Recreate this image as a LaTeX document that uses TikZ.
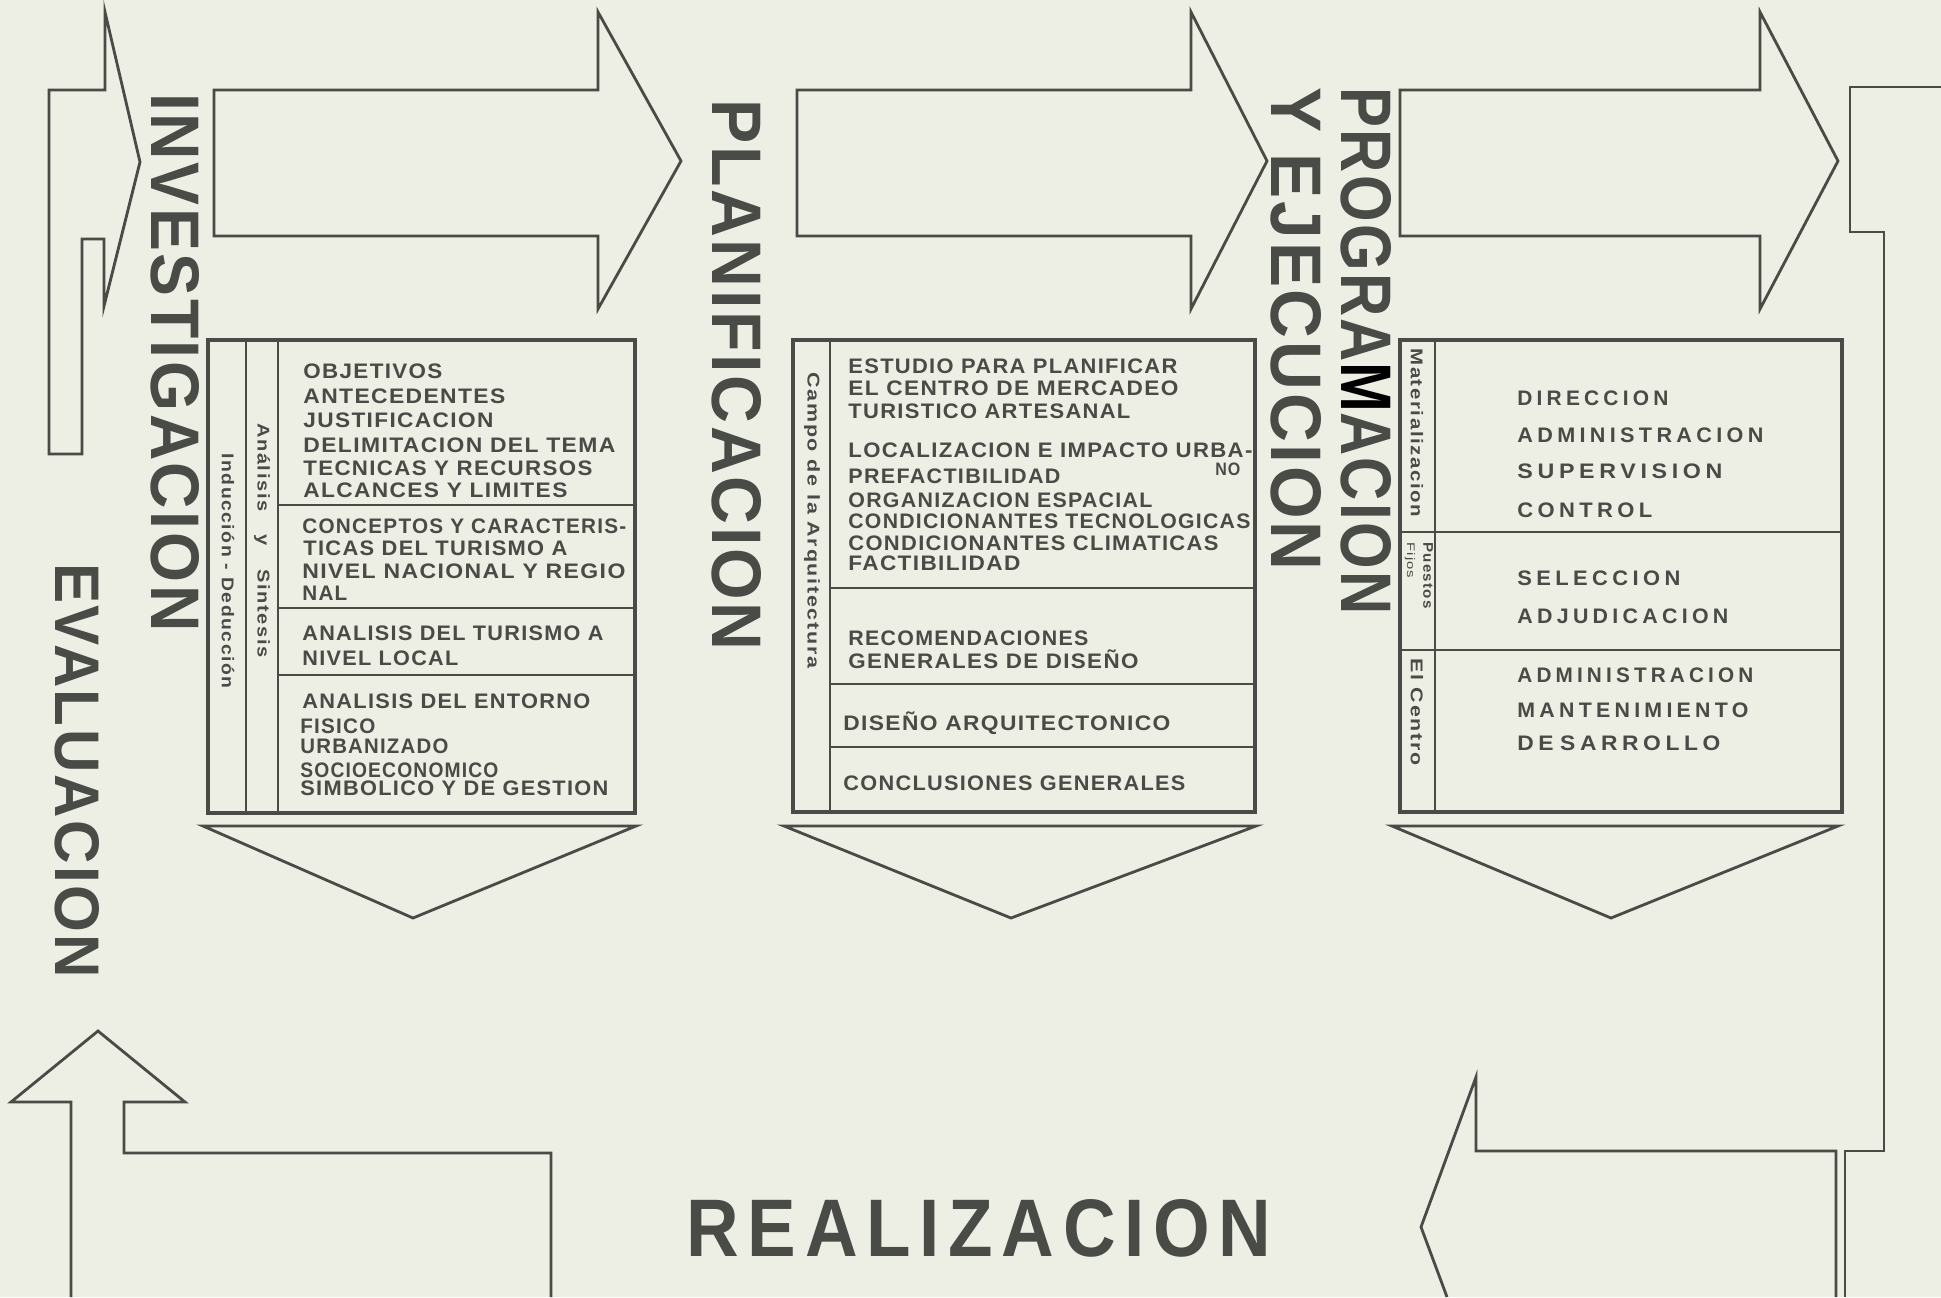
\documentclass[tikz,border=0pt]{standalone}
\usepackage{graphicx}
\usepackage{fontspec}
\setmainfont{Liberation Sans}
\newfontfamily\letrero[LetterSpace=6]{Liberation Sans}
\newfontfamily\letreroancho[LetterSpace=20]{Liberation Sans}
\newfontfamily\rotulo[LetterSpace=8]{Liberation Sans}
\newfontfamily\rotulofase[LetterSpace=4]{Liberation Sans}
\newfontfamily\rotulogrande[LetterSpace=12]{Liberation Sans}
\definecolor{papel}{RGB}{237,238,228}
\definecolor{tinta}{RGB}{72,75,70}
\newdimen\pxu \pxu=0.5pt
% text stretched to a width given in px
\newcommand{\ancho}[2]{\resizebox{#1\pxu}{\height}{#2}}
\newcommand{\titulo}[3]{\resizebox{#1\pxu}{#2\pxu}{\rotulofase\bfseries #3}}
\newcommand{\tituloancho}[3]{\resizebox{#1\pxu}{#2\pxu}{\rotulogrande\bfseries #3}}

\tikzset{
  flecha/.style={draw=tinta,line width=1.4pt,line join=miter},
  caja/.style={draw=tinta,line width=1.8pt},
  raya/.style={draw=tinta,line width=1.3pt},
  linea/.style={anchor=base west,inner sep=0pt,text=tinta,font=\letrero\fontsize{10.5}{12}\selectfont\bfseries},
  lineaancha/.style={linea,font=\letreroancho\fontsize{10.5}{12}\selectfont\bfseries},
  lateral/.style={rotate=-90,anchor=west,inner sep=0pt,text=tinta,font=\rotulo\fontsize{8.5}{9}\selectfont\bfseries},
  fase/.style={rotate=-90,anchor=west,inner sep=0pt,text=tinta},
}

\begin{document}
\begin{tikzpicture}[x=0.5pt,y=-0.5pt]
\useasboundingbox (0,0) rectangle (1941,1297);
\fill[papel] (0,0) rectangle (1941,1297);

% big arrows between the phases
\foreach \xa/\xb/\xc in {214/598/681, 797/1191/1267, 1400/1760/1838}{
  \draw[flecha] (\xa,90) -- (\xb,90) -- (\xb,12) -- (\xc,161) -- (\xb,309) -- (\xb,236) -- (\xa,236) -- cycle;
}
% arrows under the boxes
\foreach \xa/\xb/\xm in {203/636/413, 784/1256/1011, 1392/1838/1611}{
  \draw[flecha] (\xa,826) -- (\xb,826) -- (\xm,918) -- cycle;
}
% feedback loop
\draw[flecha] (49,90) -- (105,90) -- (105,12) -- (140,162) -- (104,306) -- (104,239) -- (82,239) -- (82,454) -- (49,454) -- cycle;
\draw[flecha] (71,1297) -- (71,1102) -- (11,1102) -- (98,1031) -- (185,1102) -- (124,1102) -- (124,1153) -- (551,1153) -- (551,1297);
\draw[flecha] (1447,1297) -- (1421,1227) -- (1476,1077) -- (1476,1151) -- (1836,1151) -- (1836,1297);
\draw[flecha] (1941,87) -- (1850,87) -- (1850,232) -- (1884,232) -- (1884,1151) -- (1845,1151) -- (1845,1297);

% boxes
\draw[caja] (208,340) rectangle (635,813);
\draw[raya] (246,340) -- (246,813) (278,340) -- (278,813);
\foreach \y in {505,608,675} \draw[raya] (278,\y) -- (635,\y);
\draw[caja] (793,340) rectangle (1255,812);
\draw[raya] (830,340) -- (830,812);
\foreach \y in {588,684,747} \draw[raya] (830,\y) -- (1255,\y);
\draw[caja] (1400,340) rectangle (1842,812);
\draw[raya] (1435,340) -- (1435,812);
\foreach \y in {532,650} \draw[raya] (1400,\y) -- (1842,\y);

% phase titles
\node[fase] (investigacion) at (175,93) {\titulo{538}{48}{INVESTIGACION}};
\node[fase] (planificacion) at (737,99) {\titulo{551}{49}{PLANIFICACION}};
\node[fase] (programacion) at (1366,87) {\titulo{527}{50}{PROGRA{\color{black}M}ACION}};
\node[fase] (ejecucion) at (1296,87) {\titulo{483}{50}{Y EJECUCION}};
\node[fase] (evaluacion) at (77,563) {\titulo{415}{44}{EVALUACION}};
\node[inner sep=0pt,text=tinta] (realizacion) at (979,1228) {\tituloancho{585}{57}{REALIZACION}};

% side labels
\node[lateral] (induccion) at (228,453) {\ancho{235}{Inducción - Deducción}};
\node[lateral] (analisis) at (262,423) {\ancho{234}{Análisis\hspace{10pt}y\hspace{10pt}Sintesis}};
\node[lateral] (campo) at (812,372) {\ancho{296}{Campo de la Arquitectura}};
\node[lateral] (materia) at (1417,348) {\ancho{169}{Materializacion}};
\node[lateral,font=\rotulo\fontsize{7}{8}\selectfont\bfseries] (puestos) at (1428,542) {\ancho{66}{Puestos}};
\node[lateral,font=\rotulo\fontsize{5.5}{6}\selectfont] (fijos) at (1410,542) {\ancho{36}{Fijos}};
\node[lateral] (centro) at (1417,658) {\ancho{107}{El Centro}};

% box texts
\foreach \i/\x/\y/\w/\txt in {1/303/378/139/OBJETIVOS, 2/303/403/202/ANTECEDENTES,
  3/303/427/190/JUSTIFICACION, 4/303/452/312/DELIMITACION DEL TEMA,
  5/303/475/289/TECNICAS Y RECURSOS, 6/303/497/264/ALCANCES Y LIMITES,
  7/302/533/324/CONCEPTOS Y CARACTERIS-, 8/303/555/264/TICAS DEL TURISMO A,
  9/302/578/323/NIVEL NACIONAL Y REGIO, 10/302/600/45/NAL,
  11/302/640/301/ANALISIS DEL TURISMO A, 12/302/665/156/NIVEL LOCAL,
  13/302/708/288/ANALISIS DEL ENTORNO, 14/300/733/75/FISICO,
  15/300/753/148/URBANIZADO, 16/300/777/198/SOCIOECONOMICO,
  17/300/795/308/SIMBOLICO Y DE GESTION}{
  \node[linea] (inv\i) at (\x,\y) {\ancho{\w}{\txt}};
}
\foreach \i/\x/\y/\w/\txt in {1/848/373/329/ESTUDIO PARA PLANIFICAR, 2/848/395/330/EL CENTRO DE MERCADEO,
  3/848/418/282/TURISTICO ARTESANAL, 4/848/457/404/LOCALIZACION E IMPACTO URBA-,
  6/848/483/212/PREFACTIBILIDAD,
  7/848/507/304/ORGANIZACION ESPACIAL, 8/848/528/402/CONDICIONANTES TECNOLOGICAS,
  9/848/550/370/CONDICIONANTES CLIMATICAS, 10/848/570/172/FACTIBILIDAD,
  11/848/645/240/RECOMENDACIONES, 12/848/668/290/GENERALES DE DISEÑO,
  13/843/730/327/DISEÑO ARQUITECTONICO, 14/843/790/342/CONCLUSIONES GENERALES}{
  \node[linea] (pla\i) at (\x,\y) {\ancho{\w}{\txt}};
}
\node[linea,font=\letrero\fontsize{9}{10}\selectfont\bfseries] (pla5) at (1215,475) {\ancho{25}{NO}};
\foreach \i/\y/\w/\txt in {1/405/151/DIRECCION, 2/442/246/ADMINISTRACION,
  3/478/205/SUPERVISION, 4/517/135/CONTROL, 5/585/163/SELECCION,
  6/623/211/ADJUDICACION, 7/682/236/ADMINISTRACION,
  8/717/231/MANTENIMIENTO, 9/750/203/DE\kern3pt SARROLLO}{
  \node[lineaancha] (pro\i) at (1517,\y) {\ancho{\w}{\txt}};
}
\end{tikzpicture}
\end{document}
